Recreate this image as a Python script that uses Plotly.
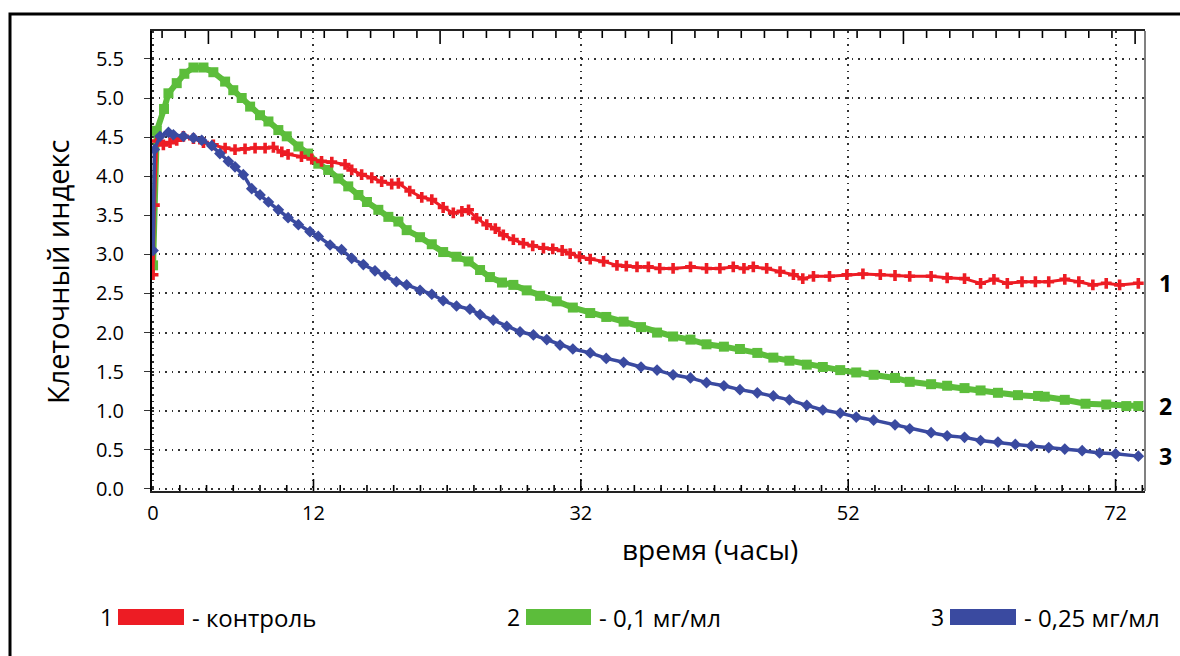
import plotly.graph_objects as go

# ---------------- data ----------------
red_x = [0.0, 0.1, 0.28, 0.77, 1.27, 1.77, 2.27, 3.02, 3.77, 4.51, 5.39, 6.13, 6.88, 7.63, 8.38, 9.0,
         9.63, 10.1, 11.1, 11.87, 12.6, 13.37, 14.36, 14.86, 15.6, 16.36, 17.1, 17.85, 18.35, 19.2,
         20.1, 20.85, 21.7, 22.46, 23.1, 23.6, 24.2, 24.96, 25.6, 26.2, 26.95, 27.7, 28.4, 29.2,
         29.9, 30.6, 31.2, 31.9, 32.7, 33.7, 34.7, 35.4, 36.2, 37.05, 37.9, 38.9, 40.2, 41.4, 42.4,
         43.4, 44.2, 44.9, 45.9, 46.9, 47.9, 48.6, 49.4, 50.6, 51.9, 53.1, 54.4, 55.5, 56.6, 58.2,
         59.4, 60.7, 61.9, 62.9, 63.9, 65.0, 66.0, 67.0, 68.2, 69.25, 70.3, 71.3, 72.3, 73.7]
red_y = [2.74, 3.63, 4.45, 4.40, 4.43, 4.46, 4.51, 4.48, 4.43, 4.40, 4.36, 4.34, 4.35, 4.36, 4.36, 4.37,
         4.31, 4.28, 4.25, 4.22, 4.19, 4.18, 4.15, 4.08, 4.02, 3.98, 3.93, 3.90, 3.91, 3.81,
         3.73, 3.70, 3.60, 3.53, 3.55, 3.57, 3.46, 3.38, 3.33, 3.25, 3.19, 3.14, 3.11, 3.08,
         3.07, 3.05, 3.01, 2.97, 2.94, 2.91, 2.86, 2.85, 2.84, 2.84, 2.82, 2.82, 2.84, 2.82, 2.82,
         2.84, 2.82, 2.84, 2.82, 2.78, 2.74, 2.69, 2.72, 2.72, 2.74, 2.75, 2.74, 2.73, 2.72, 2.72,
         2.70, 2.69, 2.63, 2.68, 2.63, 2.65, 2.65, 2.65, 2.68, 2.65, 2.61, 2.63, 2.61, 2.63]

green_x = [0.0, 0.28, 0.82, 1.15, 1.77, 2.34, 3.02, 3.77, 4.51, 5.39, 6.0, 6.63, 7.26, 8.0, 8.63, 9.37,
           10.0, 10.87, 11.6, 12.36, 13.1, 13.86, 14.6, 15.36, 16.0, 16.85, 17.6, 18.35, 18.97, 19.97,
           20.85, 21.7, 22.7, 23.6, 24.46, 25.2, 26.1, 26.95, 27.95, 28.95, 30.2, 31.4, 32.7, 33.9,
           35.2, 36.5, 37.7, 38.9, 40.2, 41.4, 42.7, 43.9, 45.2, 46.4, 47.6, 48.9, 50.1, 51.4, 52.6,
           53.9, 55.5, 56.6, 58.2, 59.4, 60.7, 61.9, 63.2, 64.7, 66.2, 66.7, 68.2, 69.75, 71.3, 72.8, 73.7]
green_y = [2.86, 4.58, 4.86, 5.06, 5.19, 5.31, 5.39, 5.39, 5.33, 5.21, 5.10, 5.00, 4.89, 4.78, 4.70, 4.59,
           4.51, 4.38, 4.29, 4.16, 4.08, 3.97, 3.87, 3.76, 3.67, 3.57, 3.48, 3.42, 3.31, 3.22,
           3.13, 3.03, 2.97, 2.91, 2.80, 2.71, 2.64, 2.61, 2.54, 2.47, 2.40, 2.32, 2.25, 2.20,
           2.14, 2.07, 2.00, 1.95, 1.91, 1.85, 1.82, 1.79, 1.74, 1.68, 1.64, 1.59, 1.56, 1.52, 1.49,
           1.46, 1.42, 1.37, 1.34, 1.32, 1.29, 1.26, 1.23, 1.20, 1.19, 1.18, 1.14, 1.09, 1.08, 1.06, 1.06]

blue_x = [0.0, 0.1, 0.52, 1.15, 1.52, 2.27, 3.02, 3.64, 4.39, 5.0, 5.63, 6.13, 6.75, 7.38, 8.0, 8.63,
          9.37, 10.1, 10.87, 11.74, 12.36, 13.24, 14.1, 14.86, 15.73, 16.6, 17.35, 18.2, 18.97, 19.97,
          20.85, 21.7, 22.7, 23.7, 24.46, 25.45, 26.46, 27.45, 28.45, 29.45, 30.44, 31.4, 32.7, 33.9,
          35.2, 36.5, 37.7, 38.9, 40.2, 41.4, 42.7, 43.9, 45.2, 46.4, 47.6, 48.9, 50.1, 51.4, 52.6,
          53.9, 55.5, 56.6, 58.2, 59.4, 60.7, 61.9, 63.2, 64.5, 65.7, 67.0, 68.2, 69.5, 70.8, 72.0, 73.7]
blue_y = [3.05, 4.34, 4.51, 4.56, 4.53, 4.51, 4.49, 4.46, 4.39, 4.29, 4.19, 4.12, 4.02, 3.84, 3.76, 3.67,
          3.57, 3.47, 3.38, 3.29, 3.23, 3.12, 3.06, 2.95, 2.87, 2.79, 2.73, 2.65, 2.61, 2.54,
          2.49, 2.41, 2.34, 2.30, 2.23, 2.16, 2.08, 2.01, 1.97, 1.91, 1.84, 1.79, 1.74, 1.67,
          1.62, 1.56, 1.52, 1.46, 1.42, 1.36, 1.32, 1.27, 1.23, 1.19, 1.14, 1.07, 1.01, 0.97, 0.92,
          0.88, 0.82, 0.77, 0.72, 0.68, 0.66, 0.62, 0.60, 0.57, 0.55, 0.53, 0.51, 0.49, 0.46, 0.45, 0.42]

x_tick_vals = [0, 12, 32, 52, 72]
x_tick_text = ["0", "12", "32", "52", "72"]
y_tick_vals = [0.0, 0.5, 1.0, 1.5, 2.0, 2.5, 3.0, 3.5, 4.0, 4.5, 5.0, 5.5]

series_names = ["контроль", "0,1 мг/мл", "0,25 мг/мл"]
series_nums = ["1", "2", "3"]
RED, GREEN, BLUE = "#ED1C24", "#5CBD3B", "#3A4AA0"

# ---------------- figure ----------------
W, H = 1180, 656
ML, MR, MT, MB = 152, 35, 31, 165
PW, PH = W - ML - MR, H - MT - MB
X_RANGE = [-0.08, 74.2]
Y_RANGE = [-0.026, 5.857]
# tick-mark layout of the frame (decoration only)
BOTTOM_MINOR_STEP = 2.0
TOP_TICK0, TOP_MINOR_STEP, TOP_MAJOR_EVERY = 4.14, 1.733, 10
Y_PER_PX = (Y_RANGE[1] - Y_RANGE[0]) / PH


def px2paper(px):
    return (px - ML) / PW


def py2paper(py):
    return (H - MB - py) / PH


FONT = "Open Sans, Noto Sans, sans-serif"

fig = go.Figure()
fig.add_trace(go.Scatter(x=green_x, y=green_y, mode="lines+markers", name=series_names[1],
                         line=dict(color=GREEN, width=6),
                         marker=dict(symbol="square", size=10, color=GREEN)))
fig.add_trace(go.Scatter(x=red_x, y=red_y, mode="lines+markers", name=series_names[0],
                         line=dict(color=RED, width=3),
                         marker=dict(symbol="cross", size=9, color=RED)))
fig.add_trace(go.Scatter(x=blue_x, y=blue_y, mode="lines+markers", name=series_names[2],
                         line=dict(color=BLUE, width=3.5),
                         marker=dict(symbol="diamond", size=9, color=BLUE)))

# frame tick marks (bottom: every 2 h, long at labelled values; top: instrument ruler)
tx, ty = [], []
k = 1
while k * BOTTOM_MINOR_STEP < X_RANGE[1]:
    xv = k * BOTTOM_MINOR_STEP
    length = 12 if xv in x_tick_vals else 6
    tx += [xv, xv, None]
    ty += [Y_RANGE[0], Y_RANGE[0] + length * Y_PER_PX, None]
    k += 1
k = -2
while TOP_TICK0 + k * TOP_MINOR_STEP < X_RANGE[1]:
    xv = TOP_TICK0 + k * TOP_MINOR_STEP
    if xv > X_RANGE[0] + 0.3:
        length = 13 if k % TOP_MAJOR_EVERY == 0 else 7
        tx += [xv, xv, None]
        ty += [Y_RANGE[1], Y_RANGE[1] - length * Y_PER_PX, None]
    k += 1
fig.add_trace(go.Scatter(x=tx, y=ty, mode="lines", line=dict(color="black", width=1.6),
                         hoverinfo="skip", showlegend=False, connectgaps=False))

grid = dict(showgrid=True, gridcolor="#333333", gridwidth=1.6, griddash="1.6px,5px")

fig.update_layout(
    width=W, height=H,
    margin=dict(l=ML, r=MR, t=MT, b=MB, pad=0),
    paper_bgcolor="white", plot_bgcolor="white",
    showlegend=False,
    font=dict(family=FONT, color="black"),
    xaxis=dict(range=X_RANGE, tickmode="array", tickvals=x_tick_vals, ticktext=x_tick_text,
               ticks="", showline=True, linecolor="#222222", linewidth=2, zeroline=False,
               mirror=True, tickfont=dict(size=20, family=FONT), ticklabelstandoff=3, **grid),
    yaxis=dict(range=Y_RANGE, tickmode="array", tickvals=y_tick_vals, tickformat=".1f",
               ticks="outside", ticklen=6, tickwidth=1.4, tickcolor="#333333",
               showline=True, linecolor="black", linewidth=2, zeroline=False,
               tickfont=dict(size=20, family=FONT), ticklabelstandoff=16, **grid),
)

# right border of the plot area (grey)
fig.add_shape(type="line", xref="paper", yref="paper", x0=1, x1=1, y0=0, y1=1,
              line=dict(color="#808080", width=2), layer="above")
# outer frame
fig.add_shape(type="rect", xref="paper", yref="paper",
              x0=px2paper(10), x1=px2paper(1195), y0=py2paper(14), y1=py2paper(670),
              line=dict(color="black", width=3), layer="above")

# axis titles
fig.add_annotation(xref="paper", yref="paper", x=px2paper(57), y=py2paper(272),
                   text="Клеточный индекс", textangle=-90, showarrow=False,
                   font=dict(size=29, family=FONT), xanchor="center", yanchor="middle")
fig.add_annotation(xref="paper", yref="paper", x=px2paper(710), y=py2paper(549),
                   text="время (часы)", showarrow=False,
                   font=dict(size=28, family=FONT), xanchor="center", yanchor="middle")

# curve numbers at right end
for num, ys in zip(series_nums, [red_y, green_y, blue_y]):
    fig.add_annotation(xref="paper", yref="y", x=px2paper(1165), y=ys[-1], text="<b>%s</b>" % num,
                       showarrow=False, font=dict(size=23, family=FONT), xanchor="center",
                       yanchor="middle")

# custom legend row
legend_items = [(106, 119, 183, 190, RED), (513, 527, 590, 597, GREEN), (937, 951, 1015, 1022, BLUE)]
ly = 617
for (numx, bx0, bx1, tx_, col), num, name in zip(legend_items, series_nums, series_names):
    fig.add_annotation(xref="paper", yref="paper", x=px2paper(numx), y=py2paper(ly), text=num,
                       showarrow=False, font=dict(size=23, family=FONT), xanchor="center",
                       yanchor="middle")
    fig.add_shape(type="rect", xref="paper", yref="paper", x0=px2paper(bx0), x1=px2paper(bx1),
                  y0=py2paper(ly - 7), y1=py2paper(ly + 7), fillcolor=col,
                  line=dict(color=col, width=2))
    fig.add_annotation(xref="paper", yref="paper", x=px2paper(tx_), y=py2paper(ly),
                       text="- " + name, showarrow=False, font=dict(size=24, family=FONT),
                       xanchor="left", yanchor="middle")

fig.write_html("out.html")
